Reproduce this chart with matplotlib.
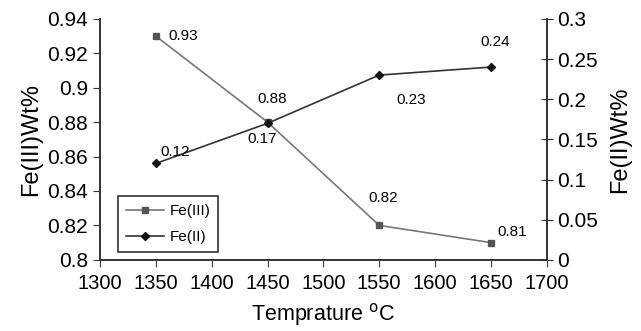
import matplotlib
matplotlib.use("Agg")
import matplotlib.pyplot as plt

plt.rcParams['font.family'] = ['Liberation Sans', 'DejaVu Sans']

# data
temp = [1350, 1450, 1550, 1650]
fe3 = [0.93, 0.88, 0.82, 0.81]
fe2 = [0.12, 0.17, 0.23, 0.24]
fe3_lbl = ['0.93', '0.88', '0.82', '0.81']
fe2_lbl = ['0.12', '0.17', '0.23', '0.24']

# label offsets (points), (dx, dy, ha)
fe3_off = [(9, 0, 'left'), (3, 17, 'center'), (3, 20, 'center'), (5, 8, 'left')]
fe2_off = [(14, 8, 'center'), (-4, -11, 'center'), (23, -18, 'center'), (3, 18, 'center')]

fig = plt.figure(figsize=(6.41, 3.31), dpi=100)
ax = fig.add_axes([0.156, 0.215, 0.697, 0.728])
ax2 = ax.twinx()

l1, = ax.plot(temp, fe3, color='#777777', lw=1.2, marker='s', ms=5,
              mfc='#555555', mec='#555555', label='Fe(III)')
l2, = ax2.plot(temp, fe2, color='#333333', lw=1.2, marker='D', ms=4.5,
               mfc='#111111', mec='#111111', label='Fe(II)')

for x, y, s, o in zip(temp, fe3, fe3_lbl, fe3_off):
    ax.annotate(s, (x, y), xytext=o[:2], textcoords='offset points',
                ha=o[2], va='center', fontsize=11)
for x, y, s, o in zip(temp, fe2, fe2_lbl, fe2_off):
    ax2.annotate(s, (x, y), xytext=o[:2], textcoords='offset points',
                 ha=o[2], va='center', fontsize=11)

ax.set_xlim(1300, 1700)
ax.set_ylim(0.8, 0.94)
ax2.set_ylim(0, 0.3)
ax.set_xticks(range(1300, 1701, 50))
ax.set_yticks([0.8, 0.82, 0.84, 0.86, 0.88, 0.9, 0.92, 0.94])
ax.set_yticklabels(['0.8', '0.82', '0.84', '0.86', '0.88', '0.9', '0.92', '0.94'])
ax2.set_yticks([0, 0.05, 0.1, 0.15, 0.2, 0.25, 0.3])
ax2.set_yticklabels(['0', '0.05', '0.1', '0.15', '0.2', '0.25', '0.3'])

for a in (ax, ax2):
    a.spines['top'].set_visible(False)
    for s in a.spines.values():
        s.set_color('#333333')
        s.set_linewidth(1.2)
ax.tick_params(axis='x', labelsize=14.5, direction='out', length=5, color='#333333', pad=5)
ax.tick_params(axis='y', labelsize=15, direction='out', length=5, color='#333333')
ax2.tick_params(axis='y', labelsize=15, direction='inout', length=8, color='#333333')

ax.set_xlabel('Temprature $^{\\mathrm{o}}$C', fontsize=15.5, labelpad=6)
ax.set_ylabel('Fe(III)Wt%', fontsize=17, labelpad=4)
ax2.set_ylabel('Fe(II)Wt%', fontsize=17, labelpad=8, rotation=90)

leg = ax.legend(handles=[l1, l2], loc='lower left', bbox_to_anchor=(0.04, 0.033),
                fontsize=11, fancybox=False, framealpha=1, edgecolor='#333333',
                handlelength=2.5, handletextpad=0.4, borderpad=0.5, labelspacing=0.8,
                borderaxespad=0)
leg.get_frame().set_linewidth(1.2)

fig.savefig('out.png', dpi=100)
